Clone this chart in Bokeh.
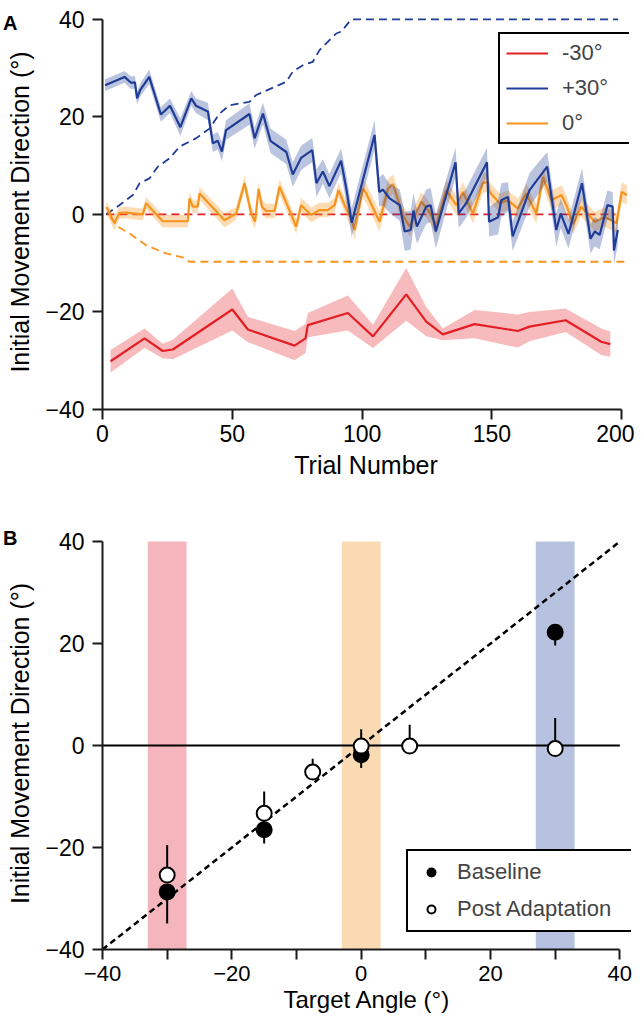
import numpy as np
from bokeh.plotting import figure
from bokeh.layouts import column
from bokeh.models import Range1d, Legend, LegendItem, FixedTicker, LinearAxis, CustomJSTickFormatter
from bokeh.embed import file_html
from bokeh.resources import INLINE

# ---------------- data: panel A ----------------
blue_trial = [1, 8.5, 11, 12.5, 13.3, 14.5, 18, 22.5, 26, 30,
              34.2, 36, 40.6, 42.5, 44.4, 46, 47.6, 56.6, 58.6, 61.8,
              64.7, 70.8, 73.3, 76.5, 80.8, 82.4, 84.9, 87.4, 91.9, 94,
              96, 104.8, 106.6, 108, 110.6, 114.5, 116.4, 118.7, 119.8, 121.1,
              124.7, 126.4, 128.4, 136, 137.2, 140.1, 148.1, 148.9, 152.4, 153.6,
              156.2, 158, 164.5, 171.3, 174.8, 176.5, 179.5, 184.7, 188, 189.6,
              191.5, 194.5, 196.5, 197, 198.5]
blue_mean = [26.5, 28.2, 27.0, 27.1, 23.8, 25.5, 28.2, 20.5, 22.3, 17.9,
             23.8, 22.3, 21.1, 14.6, 15.1, 12.9, 17.3, 20.6, 15.6, 20.7,
             15.1, 12.8, 8.2, 11.6, 13.2, 6.4, 8.8, 5.8, 11.0, 5.0,
             -1.7, 16.3, 4.6, 5.1, 3.3, 1.9, -3.5, -3.2, 0.8, -2.5,
             1.6, 1.9, -3.5, 10.7, 0.2, 2.3, 10.7, -1.5, -0.6, 2.9,
             3.6, -4.5, 5.0, 9.8, -3.2, 0.2, -4.0, 6.4, -5.0, -3.5,
             -4.2, 1.9, 1.6, -7.4, -3.2]
blue_se = [1.2, 1.2, 1.3, 1.3, 1.3, 1.3, 1.5, 1.5, 1.5, 1.8,
           1.5, 1.5, 1.8, 1.8, 1.8, 2.0, 2.0, 2.2, 2.2, 2.2,
           2.5, 2.5, 2.5, 2.5, 2.5, 2.8, 2.5, 2.5, 2.5, 3.0,
           3.0, 3.0, 3.0, 3.2, 3.0, 3.2, 4.0, 4.0, 3.5, 3.5,
           3.5, 3.5, 3.5, 3.0, 3.0, 3.0, 3.0, 3.0, 3.5, 3.5,
           3.0, 3.0, 3.5, 3.0, 3.5, 3.0, 3.0, 3.0, 3.0, 3.0,
           3.0, 3.0, 3.0, 3.0, 3.0]

orange_trial = [1.5, 4.6, 6.5, 9.1, 11.7, 15.5, 16.8, 23.2, 32.9, 33.5,
                34.8, 36.7, 37.4, 47, 51.5, 54.7, 57.3, 58.8, 60.1, 61.4,
                63, 66.3, 68.2, 74.6, 76.5, 80.4, 83.6, 86.8, 89.4, 90.9,
                93.3, 95.8, 97.1, 100.3, 101.6, 106.7, 110, 111.9, 115.7, 118.3,
                122.8, 125.4, 128.5, 132.4, 136.3, 138.8, 142.7, 146.5, 148.5, 149.1,
                153, 156.2, 160, 163.2, 167.1, 169.7, 172.9, 176.8, 178.7, 181.3,
                184.4, 189.6, 193.5, 198, 200, 202]
orange_mean = [1.5, -1.8, 0.3, 0.4, 0.2, 0.0, 2.3, -1.4, -1.4, 3.3,
               1.6, 1.6, 4.3, -1.2, 0.2, 6.4, 0.2, -1.5, 5.2, 1.6,
               0.7, 0.7, 5.7, -2.5, 1.9, -0.1, 0.9, 0.9, 1.9, 5.0,
               1.9, -0.8, -3.2, 5.3, 4.3, -1.5, 5.3, 6.2, -0.1, -2.5,
               2.6, 0.9, -2.2, 5.0, 1.9, 4.6, 0.2, 6.4, 6.7, 4.6,
               2.3, 2.9, 1.2, 4.3, 0.2, 7.7, 2.9, 4.0, 1.9, -2.0,
               1.6, -1.5, -0.5, -1.8, 4.6, 4.0]
orange_se = [1.2, 1.5, 1.2, 1.2, 1.2, 1.2, 1.3, 1.3, 1.3, 1.3,
             1.3, 1.3, 1.3, 1.5, 1.3, 1.5, 1.5, 1.5, 1.5, 1.5,
             1.5, 1.5, 1.5, 1.5, 1.5, 1.5, 1.5, 1.5, 1.5, 1.5,
             1.5, 2.0, 2.0, 2.0, 2.0, 2.0, 2.0, 2.0, 2.0, 2.0,
             2.0, 2.0, 2.0, 2.0, 2.0, 2.0, 2.0, 2.0, 2.0, 2.0,
             2.0, 2.0, 2.0, 2.0, 2.0, 2.0, 2.0, 2.0, 2.0, 2.0,
             2.0, 2.0, 2.0, 2.0, 2.0, 2.0]

red_trial = [3.1, 16.2, 23.2, 27.1, 50, 56, 74, 78.2, 79.1, 94.5,
             104.2, 117, 124.7, 131.1, 143.3, 160, 164.5, 178.4, 192.1, 195.6]
red_mean = [-30.1, -25.4, -28.0, -27.7, -19.5, -23.6, -26.9, -25.4, -22.7, -20.2,
            -25.0, -16.4, -22.0, -24.6, -22.5, -23.9, -23.0, -21.7, -26.1, -26.6]
red_se = [2.3, 2.0, 1.5, 2.0, 4.3, 2.6, 3.0, 3.0, 2.5, 3.6,
          2.4, 5.4, 3.0, 1.2, 2.9, 3.4, 3.0, 2.4, 2.7, 2.6]

blue_rot_trial = [1.4, 6.5, 11.7, 14.3, 18.1, 21.3, 25.8, 29.7, 36, 41.2,
                  45.1, 49, 56.6, 59.2, 70.8, 73.3, 77.2, 81, 83.6, 90,
                  92, 95.8, 198.6]
blue_rot = [0, 1.9, 4.0, 6.4, 7.4, 9.8, 11.5, 13.9, 15.6, 17.6,
            20.7, 22.4, 23.1, 24.5, 27.2, 29.3, 30.6, 31.3, 33.7, 37.1,
            37.5, 40.0, 40.0]
orange_rot_trial = [3, 5.9, 10.4, 16.8, 18.1, 24.5, 31.6, 33.5, 202.5]
orange_rot = [-0.5, -2.5, -3.9, -6.3, -6.6, -8.0, -8.9, -9.7, -9.7]
red_rot_trial = [1.5, 197.5]
red_rot = [0, 0]

a_xticks = [0, 50, 100, 150, 200]
a_yticks = [-40, -20, 0, 20, 40]

# ---------------- data: panel B ----------------
base_target = [-30, -15, 0, 30]
base_mean = [-28.7, -16.5, -1.8, 22.2]
base_err_end = [-34.9, -19.2, -4.4, 19.6]
post_target = [-30, -15, -7.5, 0, 7.5, 30]
post_mean = [-25.4, -13.3, -5.2, -0.1, -0.1, -0.6]
post_err_end = [-19.5, -9.0, -2.6, 3.2, 4.1, 5.4]
band_centers = [-30, 0, 30]
band_width = 6
unity = [-40, 40]
zero_x = [-40, 40]
zero_y = [0, 0]
b_xticks = [-40, -30, -20, -10, 0, 10, 20, 30, 40]
b_yticks = [-40, -20, 0, 20, 40]

# ---------------- style ----------------
FONT = "Liberation Sans"
RED = "#e31e24"
BLUE = "#1f3c96"
ORANGE = "#f7941d"
RED_BAND = "#f5b5bd"
BLUE_BAND = "#b7c2e0"
ORANGE_BAND = "#f9dab3"


def style_axes(p, ylabel_standoff):
    p.outline_line_color = None
    p.xgrid.visible = False
    p.ygrid.visible = False
    for ax in (p.xaxis[0], p.yaxis[0]):
        ax.axis_line_width = 2
        ax.axis_line_color = "#1a1a1a"
        ax.major_tick_line_width = 2
        ax.major_tick_line_color = "#1a1a1a"
        ax.major_tick_in = 0
        ax.major_tick_out = 10
        ax.minor_tick_line_color = None
        ax.major_label_text_font = FONT
        ax.major_label_text_font_size = "23px"
        ax.major_label_text_color = "black"
        ax.axis_label_text_font = FONT
        ax.axis_label_text_font_size = "25px"
        ax.axis_label_text_font_style = "normal"
        ax.axis_label_text_color = "black"
    p.xaxis.major_label_standoff = 5
    p.yaxis.major_label_standoff = 8
    p.xaxis.axis_label_standoff = 6
    p.yaxis.axis_label_standoff = ylabel_standoff


def panel_letter(p, letter, ypos, standoff):
    # an unlined extra axis at the far left that carries only the panel letter
    ax = LinearAxis(ticker=FixedTicker(ticks=[ypos]),
                    formatter=CustomJSTickFormatter(code="return '%s';" % letter),
                    axis_line_color=None, major_tick_line_color=None,
                    minor_tick_line_color=None, major_tick_out=0, major_tick_in=0,
                    major_label_standoff=standoff,
                    major_label_text_font=FONT, major_label_text_font_size="20px",
                    major_label_text_font_style="bold", major_label_text_color="black")
    p.add_layout(ax, "left")


# ---------------- panel A ----------------
pA = figure(frame_width=527, frame_height=395,
            x_range=Range1d(0, 203), y_range=Range1d(-40, 41),
            output_backend="svg", toolbar_location=None,
            min_border_left=95, min_border_right=5,
            min_border_top=14, min_border_bottom=96)
style_axes(pA, 8)
pA.xaxis.ticker = FixedTicker(ticks=a_xticks)
pA.yaxis.ticker = FixedTicker(ticks=a_yticks)
pA.xaxis.bounds = (0, 200)
pA.yaxis.bounds = (-40, 40)
pA.xaxis.axis_label = "Trial Number"
pA.yaxis.axis_label = "Initial Movement Direction (°)"

rt, rm, rs = np.array(red_trial), np.array(red_mean), np.array(red_se)
ot, om, os_ = np.array(orange_trial), np.array(orange_mean), np.array(orange_se)
bt, bm, bs = np.array(blue_trial), np.array(blue_mean), np.array(blue_se)

pA.varea(x=rt, y1=rm - rs, y2=rm + rs, fill_color=RED, fill_alpha=0.3)
red_line = pA.line(rt, rm, line_color=RED, line_width=2.2)
pA.line(red_rot_trial, red_rot, line_color=RED, line_width=1.8, line_dash="8 5")
pA.line(orange_rot_trial, orange_rot, line_color=ORANGE, line_width=1.8, line_dash="8 5")
pA.line(blue_rot_trial, blue_rot, line_color=BLUE, line_width=1.8, line_dash="8 5")
pA.varea(x=ot, y1=om - os_, y2=om + os_, fill_color=ORANGE, fill_alpha=0.33)
orange_line = pA.line(ot, om, line_color=ORANGE, line_width=2.2)
pA.varea(x=bt, y1=bm - bs, y2=bm + bs, fill_color=BLUE, fill_alpha=0.3)
blue_line = pA.line(bt, bm, line_color=BLUE, line_width=2.2)

halo_red = pA.line([], [], line_color=RED_BAND, line_width=7)
halo_blue = pA.line([], [], line_color=BLUE_BAND, line_width=7)
halo_orange = pA.line([], [], line_color=ORANGE_BAND, line_width=7)

legA = Legend(items=[LegendItem(label="-30°", renderers=[halo_red, red_line]),
                     LegendItem(label="+30°", renderers=[halo_blue, blue_line]),
                     LegendItem(label="0°", renderers=[halo_orange, orange_line])],
              location=(396, 265), margin=0, padding=6, spacing=9,
              glyph_width=42, glyph_height=20, label_standoff=14, label_width=61,
              label_text_font=FONT, label_text_font_size="22px",
              border_line_color="black", border_line_width=2.5, border_line_alpha=1.0,
              background_fill_alpha=1.0)
pA.add_layout(legA)
panel_letter(pA, "A", 39.2, -14)

# ---------------- panel B ----------------
pB = figure(frame_width=529, frame_height=412,
            x_range=Range1d(-40, 41.8), y_range=Range1d(-40, 40.8),
            output_backend="svg", toolbar_location=None,
            min_border_left=95, min_border_right=3,
            min_border_top=32, min_border_bottom=71)
style_axes(pB, 8)
pB.xaxis.major_label_text_font_size = "22px"
pB.xaxis.axis_label_text_font_size = "24px"
pB.xaxis.major_label_standoff = 6
pB.xaxis.axis_label_standoff = 2
pB.xaxis.ticker = FixedTicker(ticks=b_xticks)
pB.xaxis.major_label_overrides = {-30: "", -10: "", 10: "", 30: ""}
pB.yaxis.ticker = FixedTicker(ticks=b_yticks)
pB.xaxis.bounds = (-40, 40)
pB.yaxis.bounds = (-40, 40)
pB.xaxis.axis_label = "Target Angle (°)"
pB.yaxis.axis_label = "Initial Movement Direction (°)"

pB.vbar(x=band_centers, width=band_width, bottom=-40, top=40,
        fill_color=[RED_BAND, ORANGE_BAND, BLUE_BAND], line_color=None)
pB.line(zero_x, zero_y, line_color="black", line_width=2)
pB.line(unity, unity, line_color="black", line_width=2.5, line_dash="6 4")
pB.segment(x0=base_target, y0=base_mean, x1=base_target, y1=base_err_end,
           line_color="black", line_width=2)
pB.segment(x0=post_target, y0=post_mean, x1=post_target, y1=post_err_end,
           line_color="black", line_width=2)
base_r = pB.scatter(base_target, base_mean, size=15, fill_color="black",
                    line_color="black", line_width=2)
post_r = pB.scatter(post_target, post_mean, size=15, fill_color="white",
                    line_color="black", line_width=2)

legB = Legend(items=[LegendItem(label="Baseline", renderers=[base_r]),
                     LegendItem(label="Post Adaptation", renderers=[post_r])],
              location=(304, 17), margin=0, padding=8, spacing=11,
              glyph_width=30, glyph_height=20, label_standoff=11, label_width=167,
              label_text_font=FONT, label_text_font_size="22px",
              border_line_color="black", border_line_width=2.5, border_line_alpha=1.0,
              background_fill_alpha=1.0)
pB.add_layout(legB)
panel_letter(pB, "B", 40.75, -14)

layout = column(pA, pB, spacing=0)
open("out.html", "w").write(file_html(layout, INLINE))
